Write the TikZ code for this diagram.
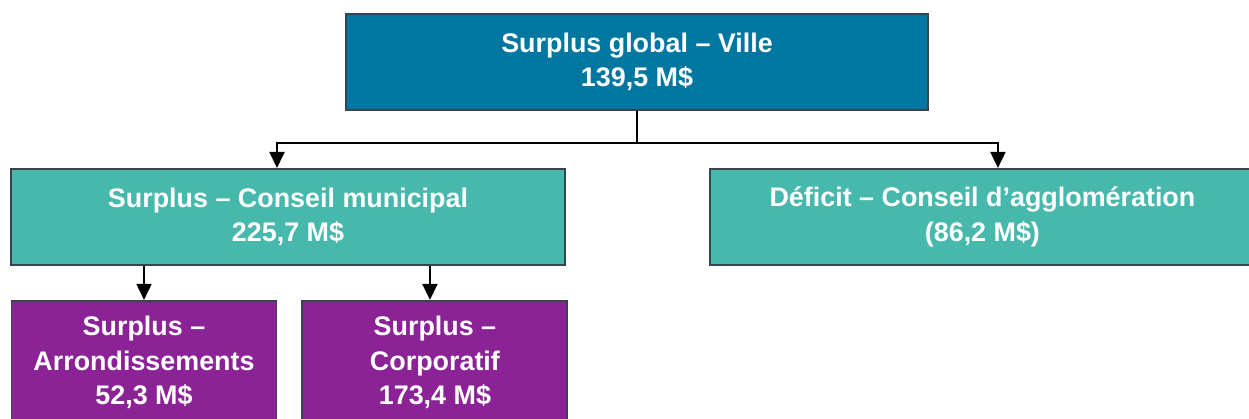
\documentclass[tikz,border=0pt]{standalone}
\usepackage{fontspec}
\setmainfont{Liberation Sans}
\usetikzlibrary{positioning, calc, arrows.meta}
\definecolor{villeblue}{RGB}{0,119,160}
\definecolor{conseilteal}{RGB}{70,184,172}
\definecolor{unitpurple}{RGB}{139,34,150}
\definecolor{boxborder}{RGB}{58,68,80}
\tikzset{
every node/.style = {font = \fontsize{15.3}{19.6}\selectfont\bfseries, text = white},
ville/.style = {rectangle, draw = boxborder, line width = 1.1pt, fill = villeblue,
	align = center, minimum width = 11.64cm, minimum height = 1.92cm},
conseil/.style = {rectangle, draw = boxborder, line width = 1.1pt, fill = conseilteal,
	align = center, minimum height = 1.92cm},
unit/.style = {rectangle, draw = boxborder, line width = 1.1pt, fill = unitpurple,
	align = center, minimum width = 5.3cm, minimum height = 2.46cm},
lien/.style = {line width = 1.1pt, black},
fleche/.style = {-{Triangle[length = 3.2mm, width = 3mm]}, line width = 1.1pt, black}
}
\begin{document}
\begin{tikzpicture}
\path [use as bounding box, clip] (0,0) rectangle (24.98,-8.36);

%% The global result
\node [ville] (ville) at (12.74,-1.24) {Surplus global -- Ville\\139,5 M\$};

%% The two councils
\node [conseil, minimum width = 11.08cm] (mun) [below = 1.14cm of ville, xshift = -6.98cm]
	{Surplus -- Conseil municipal\\225,7 M\$};
\node [conseil, minimum width = 10.9cm] (agglo) [right = 2.86cm of mun]
	{Déficit -- Conseil d’agglomération\\(86,2 M\$)};

%% The municipal split
\node [unit] (arr) [below = 0.68cm of mun, xshift = -2.88cm]
	{Surplus --\\Arrondissements\\52,3 M\$};
\node [unit] (corp) [right = 0.48cm of arr] {Surplus --\\Corporatif\\173,4 M\$};

%% The links
\draw [lien] (ville.south) -- ++(0,-0.64) coordinate (fork);
\draw [fleche] (fork) -| ([xshift = -0.22cm]mun.north);
\draw [fleche] (fork) -| ([xshift = 0.31cm]agglo.north);
\draw [fleche] (mun.south -| arr.north) -- (arr.north);
\draw [fleche] ([xshift = -0.1cm]mun.south -| corp.north) -- ([xshift = -0.1cm]corp.north);

\end{tikzpicture}
\end{document}
